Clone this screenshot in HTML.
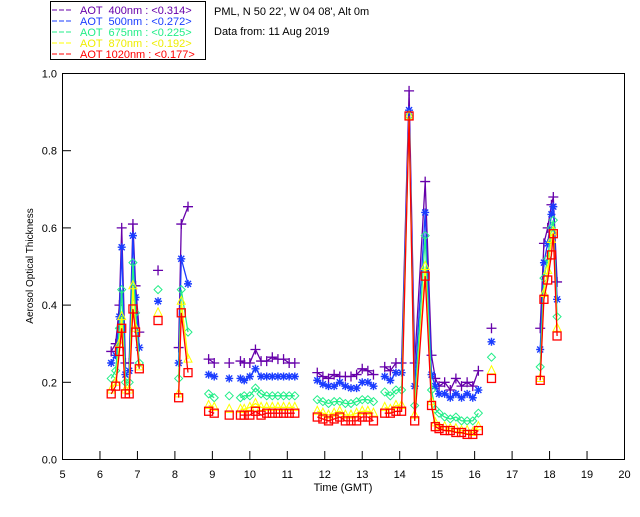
<!DOCTYPE html>
<html><head><meta charset="utf-8"><style>
body{margin:0;background:#fff;width:640px;height:512px;overflow:hidden}
svg text{font-family:"Liberation Sans",sans-serif;font-size:11px}
</style></head><body>
<svg id="c" width="640" height="512" xmlns="http://www.w3.org/2000/svg">
<rect x="50.5" y="1.5" width="155" height="58" fill="#fff" stroke="#000"/>
<g>
<g><line x1="52" y1="10" x2="72" y2="10" stroke="#6600aa" stroke-dasharray="5,2"/><text x="80" y="14" fill="#6600aa" xml:space="preserve">AOT  400nm : &lt;0.314&gt;</text></g>
<g><line x1="52" y1="21" x2="72" y2="21" stroke="#1a3cff" stroke-dasharray="5,2"/><text x="80" y="25" fill="#1a3cff" xml:space="preserve">AOT  500nm : &lt;0.272&gt;</text></g>
<g><line x1="52" y1="32" x2="72" y2="32" stroke="#22ee88" stroke-dasharray="5,2"/><text x="80" y="36" fill="#22ee88" xml:space="preserve">AOT  675nm : &lt;0.225&gt;</text></g>
<g><line x1="52" y1="43" x2="72" y2="43" stroke="#ffff00" stroke-dasharray="5,2"/><text x="80" y="47" fill="#eeee00" xml:space="preserve">AOT  870nm : &lt;0.192&gt;</text></g>
<g><line x1="52" y1="54" x2="72" y2="54" stroke="#ff0000" stroke-dasharray="5,2"/><text x="80" y="58" fill="#ff0000" xml:space="preserve">AOT 1020nm : &lt;0.177&gt;</text></g>
</g>
<text x="214" y="15" fill="#000">PML, N 50 22', W 04 08', Alt 0m</text>
<text x="214" y="35" fill="#000">Data from: 11 Aug 2019</text>
<rect x="62.5" y="73.5" width="562" height="386" fill="none" stroke="#000"/>
<text transform="translate(33,266) rotate(-90)" text-anchor="middle" style="font-size:10px">Aerosol Optical Thickness</text>
<text x="343" y="491" text-anchor="middle">Time (GMT)</text>
<g id="axes"></g><g id="series"></g>
</svg>
<script>
const times=[6.3,6.42,6.52,6.58,6.68,6.78,6.88,6.95,7.05, 7.55, 8.1,8.17,8.35,
8.9,9.05,9.45,9.75,9.85,10.0,10.15,10.3,10.45,10.6,10.75,10.9,11.05,11.2,
11.8,11.95,12.1,12.25,12.4,12.55,12.7,12.85,13.0,13.15,13.3,
13.6,13.75,13.9,14.05,14.25,14.4,
14.68,14.85,14.95,15.05,15.2,15.35,15.5,15.65,15.8,15.95,16.1, 16.45,
17.75,17.85,17.95,18.05,18.1,18.2];
const aot400=[.28,.30,.40,.60,.25,.25,.61,.45,.33, .49, .29,.61,.655,
.26,.25,.25,.255,.25,.25,.285,.255,.255,.265,.26,.26,.25,.25,
.225,.215,.21,.22,.215,.215,.215,.22,.235,.23,.22,
.24,.23,.25,.25,.955,.25,
.72,.27,.21,.19,.2,.18,.21,.19,.2,.19,.23, .34,
.34,.56,.60,.66,.68,.46];
const aot500=[.25,.27,.37,.55,.22,.23,.58,.42,.29, .41, .25,.52,.455,
.22,.215,.21,.21,.205,.215,.235,.215,.215,.215,.215,.215,.215,.215,
.205,.195,.19,.19,.2,.19,.185,.185,.2,.2,.19,
.215,.205,.225,.225,.905,.19,
.64,.22,.19,.17,.17,.16,.17,.16,.17,.16,.18, .305,
.285,.51,.56,.635,.655,.415];
const aot675=[.21,.23,.34,.44,.20,.20,.51,.38,.25, .44, .21,.44,.33,
.17,.16,.165,.16,.165,.165,.185,.17,.165,.165,.165,.165,.165,.165,
.155,.15,.145,.15,.15,.145,.145,.15,.155,.155,.15,
.175,.165,.18,.18,.89,.14,
.58,.18,.13,.12,.11,.105,.11,.10,.10,.10,.12, .265,
.24,.47,.52,.6,.62,.37];
const aot870=[.18,.20,.30,.37,.18,.18,.45,.34,.24, .38, .17,.41,.26,
.14,.135,.13,.13,.13,.135,.145,.135,.135,.135,.135,.135,.135,.135,
.125,.12,.115,.12,.125,.115,.115,.12,.125,.125,.12,
.135,.13,.14,.14,.89,.115,
.50,.15,.095,.085,.085,.08,.08,.075,.075,.07,.085, .23,
.21,.43,.49,.57,.59,.34];
const aot1020=[.17,.19,.28,.34,.17,.17,.39,.33,.235, .36, .16,.38,.225,
.125,.12,.115,.115,.115,.115,.125,.115,.12,.12,.12,.12,.12,.12,
.11,.105,.10,.105,.11,.10,.10,.10,.11,.11,.10,
.12,.12,.125,.125,.89,.10,
.475,.14,.085,.08,.075,.075,.07,.07,.065,.065,.075, .21,
.205,.415,.465,.53,.585,.32];
const xTicks=[5,6,7,8,9,10,11,12,13,14,15,16,17,18,19,20];
const yTicks=[0,0.2,0.4,0.6,0.8,1.0];
const NS='http://www.w3.org/2000/svg';
const X=t=>62.5+(t-5)*(562/15);
const Y=v=>459.5-v*386;
function mk(tag,attrs,parent){const e=document.createElementNS(NS,tag);for(const k in attrs)e.setAttribute(k,attrs[k]);parent.appendChild(e);return e;}
const ax=document.getElementById('axes');
xTicks.forEach(t=>{
 const l=mk('line',{x1:X(t),x2:X(t),y1:459.5,y2:451,stroke:'#000'},ax);
 
 
 const tx=mk('text',{x:X(t),y:478,'text-anchor':'middle'},ax);
 tx.textContent=t;
 
 
});
yTicks.forEach(v=>{
 const l=mk('line',{x1:62.5,x2:71,y1:Y(v),y2:Y(v),stroke:'#000'},ax);
 
 
 const tx=mk('text',{x:57,y:Y(v)+4,'text-anchor':'end'},ax);
 tx.textContent=v.toFixed(1);
 
 
});
const sg=document.getElementById('series');
const defs=[['400',aot400,'#6600aa','plus'],['500',aot500,'#1a3cff','star'],['675',aot675,'#22ee88','diamond'],['870',aot870,'#ffff00','tri'],['1020',aot1020,'#ff0000','square']];
defs.forEach(([nm,vals,col,mkType])=>{
 const g=mk('g',{},sg);
 
 
 let d='';
 times.forEach((t,i)=>{
  const brk=i===0||t-times[i-1]>0.29;
  d+=(brk?'M':'L')+X(t).toFixed(1)+' '+Y(vals[i]).toFixed(1);
 });
 const p=mk('path',{d:d,fill:'none',stroke:col,'stroke-width':1.3},g);
 
 
 times.forEach((t,i)=>{
  const x=X(t),y=Y(vals[i]);let e;
  if(mkType==='plus')e=mk('path',{d:`M${x-5} ${y}H${x+5}M${x} ${y-5}V${y+5}`,stroke:col,'stroke-width':1.3,fill:'none'},g);
  else if(mkType==='star')e=mk('path',{d:`M${x-4} ${y}H${x+4}M${x} ${y-4}V${y+4}M${x-3} ${y-3}L${x+3} ${y+3}M${x-3} ${y+3}L${x+3} ${y-3}`,stroke:col,'stroke-width':1.4,fill:'none'},g);
  else if(mkType==='diamond')e=mk('path',{d:`M${x} ${y-4}L${x+4} ${y}L${x} ${y+4}L${x-4} ${y}Z`,stroke:col,fill:'none'},g);
  else if(mkType==='tri')e=mk('path',{d:`M${x} ${y-5}L${x+4} ${y+3}L${x-4} ${y+3}Z`,stroke:col,fill:'none'},g);
  else e=mk('rect',{x:x-4,y:y-4,width:8,height:8,stroke:col,'stroke-width':1.3,fill:'none'},g);
  
  
 });
});
</script>
</body></html>
